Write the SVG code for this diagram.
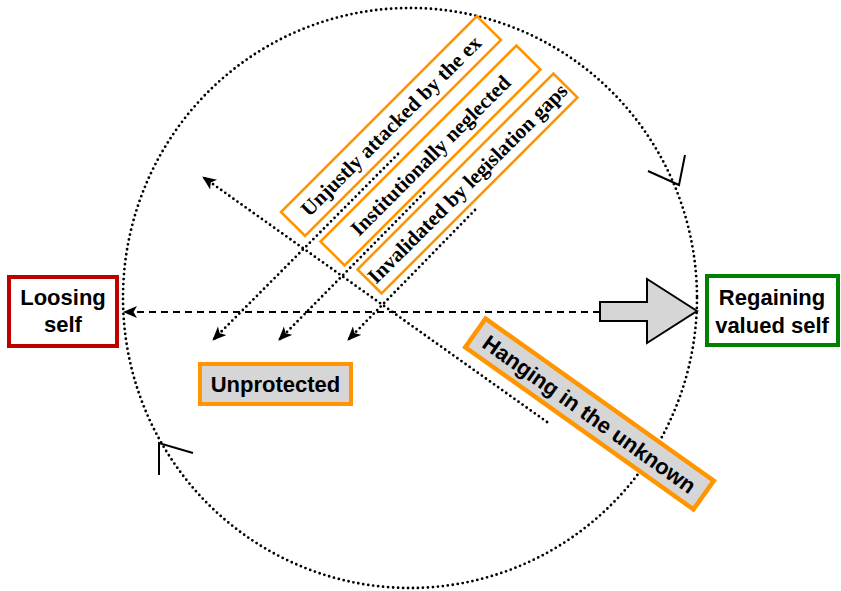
<svg xmlns="http://www.w3.org/2000/svg" width="841" height="591" viewBox="0 0 841 591">
<style>
.dot{fill:none;stroke:#000;stroke-width:2.8;stroke-linecap:round;stroke-dasharray:0 5}
.dash{fill:none;stroke:#000;stroke-width:2;stroke-dasharray:7 5}
.chev{fill:none;stroke:#000;stroke-width:2}
.sans{font-family:"Liberation Sans",Arial,sans-serif;font-weight:bold;font-size:22px;fill:#000;text-anchor:middle}
.serif{font-family:"Liberation Serif","Times New Roman",serif;font-weight:bold;font-size:21px;fill:#000;text-anchor:middle}
.obox{fill:#fff;stroke:#ff9500;stroke-width:2.6}
.gbox{fill:#d6d6d6;stroke:#ff9500;stroke-width:4.5}
</style>
<defs>
<marker id="ah" markerUnits="userSpaceOnUse" markerWidth="16" markerHeight="14" refX="13" refY="6" orient="auto">
<path d="M0,0 L14,6 L0,12 L3.5,6 z" fill="#000"/>
</marker>
</defs>
<rect width="841" height="591" fill="#fff"/>
<g id="cycle">
<ellipse cx="410" cy="298" rx="287" ry="290" class="dot"/>
<polyline class="chev" points="648,171 679,185 685,155"/>
<polyline class="chev" points="193,453 159,443 159,475"/>
</g>
<g id="connectors">
<line class="dash" x1="600" y1="312" x2="124" y2="312" marker-end="url(#ah)"/>
<line class="dot" x1="547" y1="422" x2="203" y2="177" marker-end="url(#ah)"/>
<line class="dot" x1="398" y1="154" x2="213" y2="340" marker-end="url(#ah)"/>
<line class="dot" x1="424" y1="193" x2="279" y2="340" marker-end="url(#ah)"/>
<line class="dot" x1="475" y1="210" x2="348" y2="340" marker-end="url(#ah)"/>
</g>
<g id="bigarrow">
<polygon points="600,302 647,302 647,279 697,311 647,343 647,321 600,321" fill="#d6d6d6" stroke="#000" stroke-width="2" stroke-linejoin="miter"/>
</g>
<g id="loosing">
<rect x="9" y="277" width="108" height="69" fill="#fff" stroke="#c00000" stroke-width="4"/>
<text class="sans" x="63" y="305">Loosing</text>
<text class="sans" x="63" y="332">self</text>
</g>
<g id="regaining">
<rect x="707" y="276" width="131" height="69" fill="#fff" stroke="#008000" stroke-width="4"/>
<text class="sans" x="772" y="305">Regaining</text>
<text class="sans" x="772" y="333">valued self</text>
</g>
<g id="unprotected">
<rect x="200" y="364" width="151" height="40" fill="#d6d6d6" stroke="#ff9500" stroke-width="4"/>
<text class="sans" x="275.5" y="392">Unprotected</text>
</g>
<g id="attacked" transform="translate(391,126) rotate(-45)">
<rect class="obox" x="-138.5" y="-17" width="277" height="34"/>
<text class="serif" x="0" y="7">Unjustly attacked by the ex</text>
</g>
<g id="neglected" transform="translate(430.5,155.5) rotate(-45)">
<rect class="obox" x="-138.5" y="-17" width="277" height="34"/>
<text class="serif" x="0" y="7">Institutionally neglected</text>
</g>
<g id="invalidated" transform="translate(467.5,183.5) rotate(-45)">
<rect class="obox" x="-138.5" y="-17" width="277" height="34"/>
<text class="serif" x="0" y="7">Invalidated by legislation gaps</text>
</g>
<g id="hanging" transform="translate(589.5,414) rotate(35.4)">
<rect class="gbox" x="-140" y="-17.5" width="280" height="35"/>
<text class="sans" x="0" y="8">Hanging in the unknown</text>
</g>
</svg>
